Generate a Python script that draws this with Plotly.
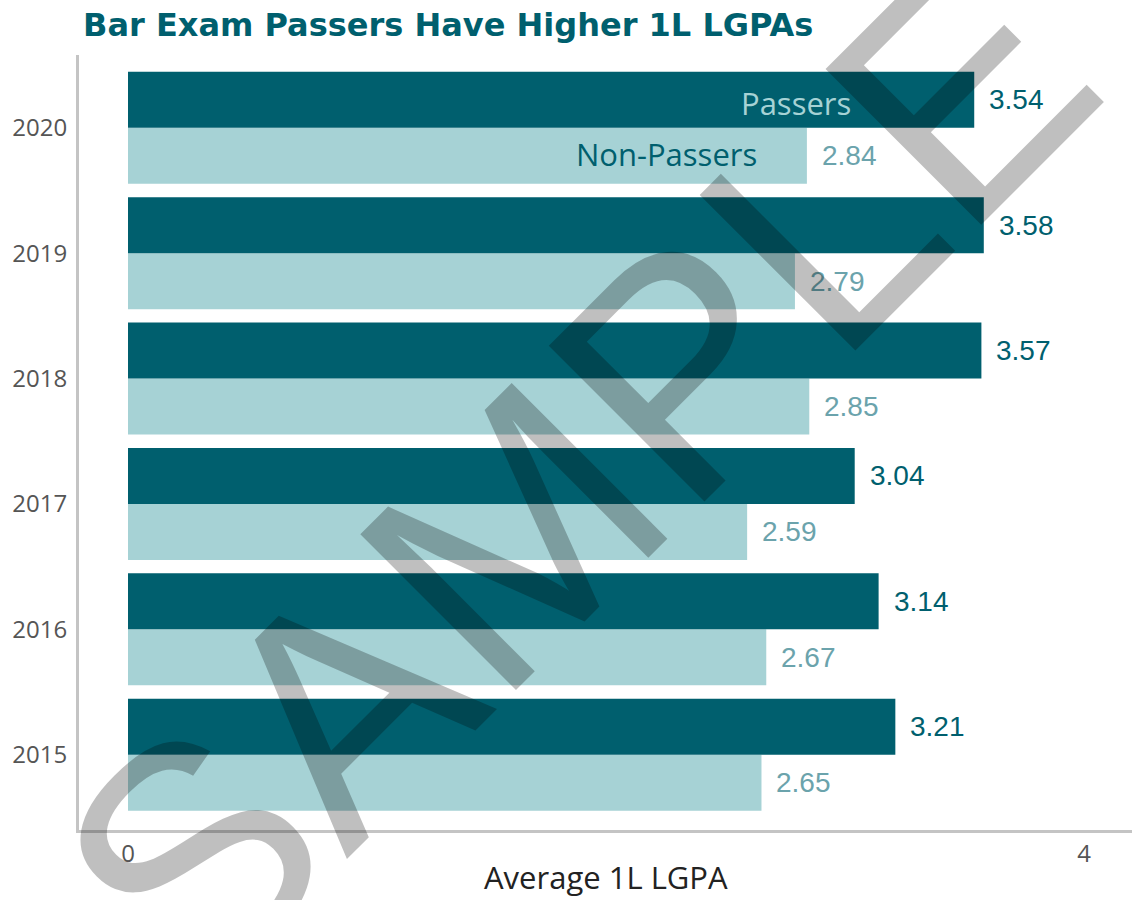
import plotly.graph_objects as go

# ---- data ----
years = ["2015", "2016", "2017", "2018", "2019", "2020"]
passers = [3.21, 3.14, 3.04, 3.57, 3.58, 3.54]
non_passers = [2.65, 2.67, 2.59, 2.85, 2.79, 2.84]
x_tick_vals = [0, 4]
x_tick_text = ["0", "4"]
series_names = ["Passers", "Non-Passers"]
title_text = "Bar Exam Passers Have Higher 1L LGPAs"
x_title = "Average 1L LGPA"
watermark = "SAMPLE"

DARK = "#005F6E"
LIGHT = "#A6D2D5"
LIGHT_TXT = "#6BA3AC"
AXIS = "#C4C4C4"

W, H = 1132, 900
L, R, T, B = 79, 0, 55, 70

fig = go.Figure()
fig.add_bar(y=years, x=non_passers, orientation="h", name=series_names[1],
            marker=dict(color=LIGHT, line=dict(width=0)), hoverinfo="x+y")
fig.add_bar(y=years, x=passers, orientation="h", name=series_names[0],
            marker=dict(color=DARK, line=dict(width=0)), hoverinfo="x+y")

annotations = []
for i, (p, n) in enumerate(zip(passers, non_passers)):
    annotations.append(dict(x=p, y=i, xref="x", yref="y", text=f"{p:.2f}",
                            xanchor="left", yanchor="middle", xshift=13, yshift=28,
                            showarrow=False,
                            font=dict(family="Liberation Sans", size=28, color=DARK)))
    annotations.append(dict(x=n, y=i, xref="x", yref="y", text=f"{n:.2f}",
                            xanchor="left", yanchor="middle", xshift=13, yshift=-28,
                            showarrow=False,
                            font=dict(family="Liberation Sans", size=28, color=LIGHT_TXT)))

pw = W - L - R
ph = H - T - B
def px(xp):
    return (xp - L) / pw
def py(yp):
    return (H - B - yp) / ph

# in-bar series labels
annotations.append(dict(x=px(853), y=py(103), xref="paper", yref="paper",
                        text=series_names[0], xanchor="right", yanchor="middle",
                        showarrow=False,
                        font=dict(family="Open Sans", size=31, color=LIGHT)))
annotations.append(dict(x=px(759), y=py(154), xref="paper", yref="paper",
                        text=series_names[1], xanchor="right", yanchor="middle",
                        showarrow=False,
                        font=dict(family="Open Sans", size=31, color=DARK)))

# x axis title
annotations.append(dict(x=0.5, y=py(877), xref="paper", yref="paper",
                        text=x_title, xanchor="center", yanchor="middle",
                        showarrow=False,
                        font=dict(family="Open Sans", size=31, color="#222222")))

# watermark
annotations.append(dict(x=px(576), y=py(473), xref="paper", yref="paper",
                        text=watermark, textangle=-45, xanchor="center", yanchor="middle",
                        showarrow=False,
                        font=dict(family="Liberation Sans", size=320, color="rgba(0,0,0,0.25)")))

fig.update_layout(
    width=W, height=H,
    margin=dict(l=L, r=R, t=T, b=B),
    barmode="group", bargap=0.107, bargroupgap=0,
    plot_bgcolor="white", paper_bgcolor="white",
    showlegend=False,
    title=dict(text=f"<b>{title_text}</b>", x=83 / W, xanchor="left",
               y=1 - 25 / H, yanchor="middle",
               font=dict(family="DejaVu Sans", size=32, color=DARK)),
    xaxis=dict(range=[-0.205, 4.2], tickvals=x_tick_vals, ticktext=x_tick_text,
               showgrid=False, zeroline=False, showline=True, linecolor=AXIS,
               linewidth=3, ticks="", ticklabelstandoff=0,
               tickfont=dict(family="Open Sans", size=24, color="#555555")),
    yaxis=dict(type="category", categoryorder="array", categoryarray=years,
               range=[-0.6, 5.58], showgrid=False, zeroline=False, showline=True,
               linecolor=AXIS, linewidth=3, ticks="", ticklabelstandoff=4,
               tickfont=dict(family="Open Sans", size=24, color="#555555")),
    annotations=annotations,
)

fig.write_html("out.html", config={"displayModeBar": False},
               post_script="document.body.style.margin='0px';document.body.style.padding='0px';")
